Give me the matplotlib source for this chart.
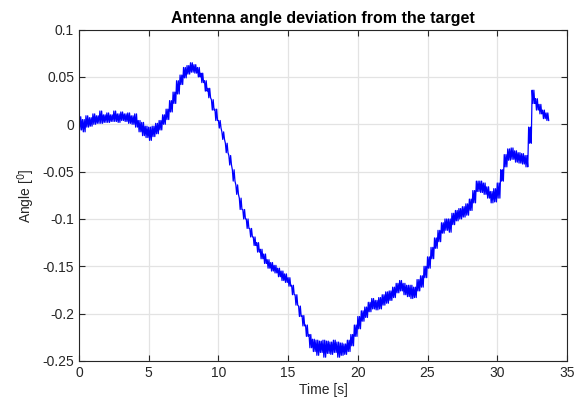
import matplotlib
matplotlib.use("Agg")
import matplotlib.pyplot as plt
import numpy as np

plt.rcParams['font.family'] = ['Liberation Sans', 'DejaVu Sans']

# envelope of the noisy trace, read every 0.25 s (upper / lower)
dt = 0.25
angle_hi = [0.008, 0.005, 0.009, 0.007, 0.011, 0.009, 0.014, 0.010, 0.012, 0.010,
            0.014, 0.011, 0.013, 0.011, 0.012, 0.009, 0.011, 0.004, 0.002, -0.002,
            -0.003, -0.002, 0.001, 0.004, 0.010, 0.016, 0.025, 0.034, 0.046, 0.052,
            0.060, 0.062, 0.065, 0.063, 0.060, 0.054, 0.046, 0.038, 0.026, 0.016,
            0.004, -0.008, -0.020, -0.033, -0.048, -0.064, -0.078, -0.090, -0.100, -0.110,
            -0.119, -0.125, -0.132, -0.137, -0.143, -0.146, -0.149, -0.152, -0.155, -0.158,
            -0.162, -0.170, -0.180, -0.192, -0.202, -0.212, -0.222, -0.227, -0.228, -0.229,
            -0.228, -0.229, -0.230, -0.228, -0.230, -0.231, -0.232, -0.228, -0.222, -0.212,
            -0.203, -0.197, -0.193, -0.188, -0.184, -0.186, -0.183, -0.180, -0.177, -0.176,
            -0.172, -0.168, -0.165, -0.168, -0.170, -0.170, -0.172, -0.164, -0.160, -0.150,
            -0.140, -0.130, -0.120, -0.112, -0.104, -0.100, -0.100, -0.094, -0.091, -0.089,
            -0.087, -0.084, -0.079, -0.070, -0.060, -0.060, -0.062, -0.066, -0.071, -0.068,
            -0.062, -0.048, -0.032, -0.026, -0.025, -0.028, -0.030, -0.031, -0.033, -0.003,
            0.036, 0.027, 0.021, 0.015, 0.012]
angle_lo = [-0.006, -0.008, -0.003, -0.002, 0.000, 0.001, 0.001, 0.002, 0.002, 0.003,
            0.003, 0.002, 0.004, 0.003, 0.001, 0.000, -0.003, -0.008, -0.012, -0.014,
            -0.017, -0.013, -0.010, -0.006, 0.000, 0.005, 0.013, 0.022, 0.032, 0.042,
            0.049, 0.053, 0.055, 0.054, 0.050, 0.044, 0.035, 0.028, 0.015, 0.004,
            -0.004, -0.016, -0.030, -0.043, -0.060, -0.074, -0.090, -0.100, -0.110, -0.119,
            -0.128, -0.135, -0.142, -0.147, -0.152, -0.155, -0.157, -0.161, -0.165, -0.167,
            -0.171, -0.180, -0.191, -0.203, -0.213, -0.224, -0.236, -0.240, -0.244, -0.241,
            -0.246, -0.242, -0.243, -0.241, -0.246, -0.244, -0.243, -0.240, -0.234, -0.224,
            -0.216, -0.208, -0.204, -0.198, -0.195, -0.196, -0.195, -0.191, -0.189, -0.186,
            -0.183, -0.178, -0.176, -0.180, -0.182, -0.184, -0.183, -0.176, -0.172, -0.162,
            -0.152, -0.142, -0.131, -0.124, -0.115, -0.112, -0.114, -0.106, -0.102, -0.100,
            -0.098, -0.096, -0.091, -0.083, -0.071, -0.072, -0.074, -0.078, -0.083, -0.082,
            -0.078, -0.060, -0.045, -0.038, -0.037, -0.040, -0.041, -0.042, -0.045, -0.020,
            0.022, 0.015, 0.011, 0.006, 0.004]

xticks = [0, 5, 10, 15, 20, 25, 30, 35]
yticks = [-0.25, -0.2, -0.15, -0.1, -0.05, 0, 0.05, 0.1]
yticklabels = ['-0.25', '-0.2', '-0.15', '-0.1', '-0.05', '0', '0.05', '0.1']

# the trace swings between the upper and lower envelope inside each 0.25 s step
t = np.arange(len(angle_hi)) * dt
x = np.concatenate([t[:, None] + dt * np.array([0, 0.25, 0.5, 0.75])[None, :]]).ravel()
y = np.column_stack([angle_hi, angle_lo, angle_hi, angle_lo]).ravel()

fig = plt.figure(figsize=(5.82, 4.0), dpi=100)
ax = fig.add_axes([0.1357, 0.0975, 0.8385, 0.8285])

ax.plot(x, y, color='#0000ff', lw=0.9)

ax.set_xlim(0, 35)
ax.set_ylim(-0.25, 0.1)
ax.set_xticks(xticks)
ax.set_yticks(yticks)
ax.set_yticklabels(yticklabels)
ax.grid(True, color='#e3e3e3', lw=0.9)
ax.set_axisbelow(True)
ax.tick_params(direction='in', length=4, width=0.8, colors='#262626',
               labelsize=10, top=True, right=True)
for s in ax.spines.values():
    s.set_color('#262626')
    s.set_linewidth(0.8)

ax.set_title('Antenna angle deviation from the target', fontsize=11.5,
             fontweight='bold', pad=5)
ax.set_xlabel('Time [s]', fontsize=10, color='#262626', labelpad=2)
ax.set_ylabel(r'Angle [$^0$]', fontsize=10, color='#262626', labelpad=4)

fig.savefig('out.png', dpi=100)
